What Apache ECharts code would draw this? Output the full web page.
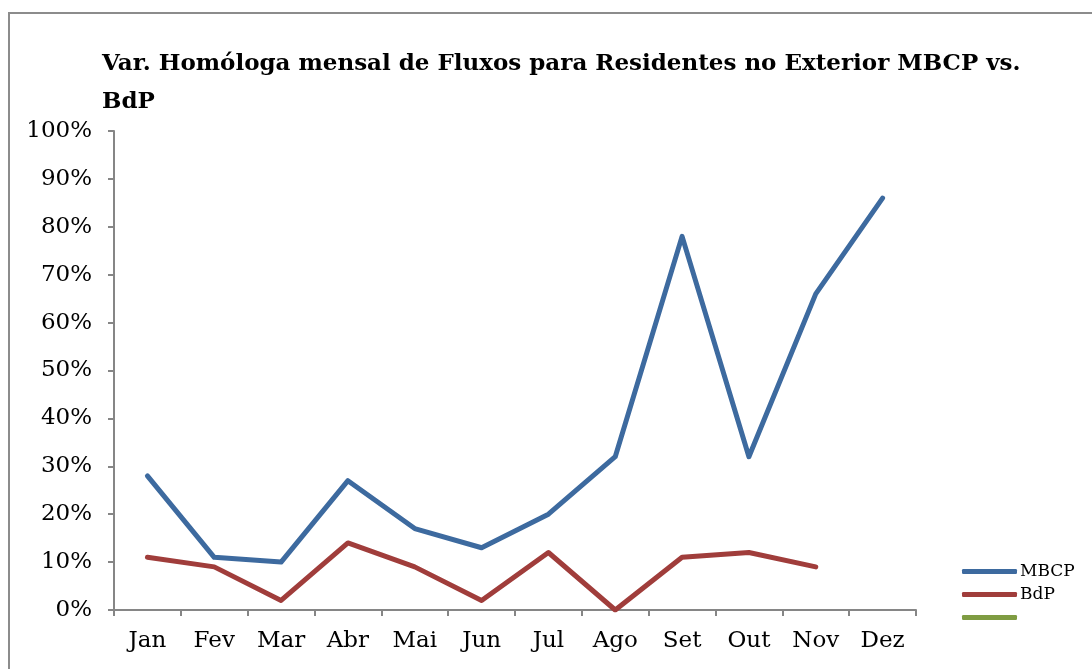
<!DOCTYPE html>
<html>
<head>
<meta charset="utf-8">
<script src="https://cdn.jsdelivr.net/npm/echarts@6/dist/echarts.min.js"></script>
<style>
    html, body { margin: 0; padding: 0; background: #fff; }
    #frame { position: absolute; left: 8px; top: 12px; width: 1100px; height: 700px; border: 2px solid #8c8c8c; }
    #chart { position: absolute; left: 0; top: 0; width: 1092px; height: 669px; }
</style>
</head>
<body>
<div id="frame"></div>
<div id="chart"></div>
<script>
// meses
var months = ['Jan', 'Fev', 'Mar', 'Abr', 'Mai', 'Jun', 'Jul', 'Ago', 'Set', 'Out', 'Nov', 'Dez'];
// valores em %
var mbcp = [28, 11, 10, 27, 17, 13, 20, 32, 78, 32, 66, 86];
var bdp = [11, 9, 2, 14, 9, 2, 12, 0, 11, 12, 9, null];
var third = [];
var yTicks = [0, 10, 20, 30, 40, 50, 60, 70, 80, 90, 100];

var serif = '"DejaVu Serif", "Liberation Serif", serif';
var myColor = ['#3D6A9F', '#A03D3B', '#7F9C42'];

var chart = echarts.init(document.getElementById('chart'));
chart.setOption({
    animation: false,
    color: myColor,
    title: {
        text: 'Var. Homóloga mensal de Fluxos para Residentes no Exterior MBCP vs.\nBdP',
        left: 97,
        top: 40,
        textStyle: {
            fontFamily: serif,
            fontWeight: 'bold',
            fontSize: 23,
            lineHeight: 38,
            color: '#000'
        }
    },
    legend: {
        orient: 'vertical',
        left: 957,
        top: 558,
        itemWidth: 55,
        itemHeight: 5,
        itemGap: 6,
        icon: 'roundRect',
        data: ['MBCP', 'BdP', ' '],
        textStyle: {
            fontFamily: serif,
            fontSize: 17,
            color: '#000',
            padding: [0, 0, 0, -2]
        }
    },
    grid: {
        left: 114,
        right: 176,
        top: 131,
        bottom: 59
    },
    xAxis: {
        type: 'category',
        data: months,
        boundaryGap: true,
        axisLine: { lineStyle: { color: '#868686', width: 2 } },
        axisTick: { show: true, length: 6, interval: 0, lineStyle: { color: '#868686', width: 2 } },
        axisLabel: {
            fontFamily: serif,
            fontSize: 23,
            color: '#000',
            margin: 20,
            interval: 0
        }
    },
    yAxis: {
        type: 'value',
        min: yTicks[0],
        max: yTicks[yTicks.length - 1],
        interval: 10,
        axisLine: { show: true, lineStyle: { color: '#868686', width: 2 } },
        axisTick: { show: true, length: 6, lineStyle: { color: '#868686', width: 2 } },
        splitLine: { show: false },
        axisLabel: {
            fontFamily: serif,
            fontSize: 23,
            color: '#000',
            margin: 22,
            formatter: '{value}%'
        }
    },
    series: [{
        name: 'MBCP',
        type: 'line',
        data: mbcp,
        symbol: 'none',
        lineStyle: { width: 5, cap: 'round', join: 'round' }
    }, {
        name: 'BdP',
        type: 'line',
        data: bdp,
        symbol: 'none',
        lineStyle: { width: 5, cap: 'round', join: 'round' }
    }, {
        name: ' ',
        type: 'line',
        data: third,
        symbol: 'none',
        lineStyle: { width: 5 }
    }]
});
</script>
</body>
</html>
